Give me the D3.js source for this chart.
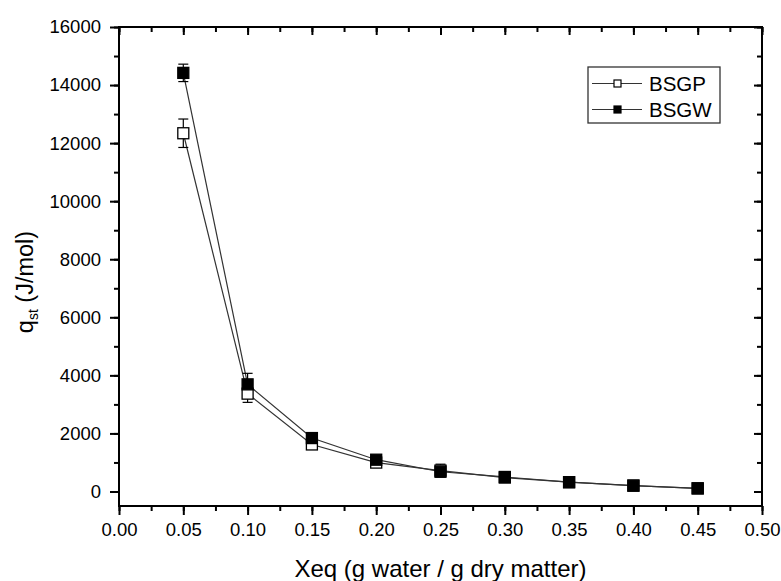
<!DOCTYPE html>
<html lang="en">
<head>
	<meta charset="UTF-8">
	<title>qst vs Xeq</title>
	<script src="https://d3js.org/d3.v7.min.js"></script>
	<style>
		body { margin: 0; background: #fff; }
		text { font-family: Arial, "Liberation Sans", sans-serif; fill: #000; }
	</style>
</head>
<body>
	<div class="box"></div>

	<script type="text/javascript">
		// data
		let xeq = [0.05, 0.10, 0.15, 0.20, 0.25, 0.30, 0.35, 0.40, 0.45]
		let bsgp = [12340, 3370, 1620, 995, 720, 480, 320, 205, 110]
		let bsgpErr = [490, 300, 120, 100, 220, 90, 60, 40, 30]
		let bsgw = [14420, 3690, 1840, 1095, 680, 500, 320, 200, 105]
		let bsgwErr = [300, 380, 150, 110, 120, 80, 60, 40, 30]
		let xTicks = [0, 0.05, 0.10, 0.15, 0.20, 0.25, 0.30, 0.35, 0.40, 0.45, 0.50]
		let yTicks = [0, 2000, 4000, 6000, 8000, 10000, 12000, 14000, 16000]

		let width = 781
		let height = 581
		let margin = { top: 27, right: 19, bottom: 75, left: 119 }
		let svg = d3.select('.box').append('svg').attr('width', width).attr('height', height)

		let x = d3.scaleLinear().domain([0, 0.5]).range([margin.left, width - margin.right])
		let y = d3.scaleLinear().domain([-500, 16000]).range([height - margin.bottom, margin.top])

		let minorX = d3.range(0, 0.5001, 0.025)
		let minorY = d3.range(0, 16001, 1000)

		// minor ticks first, then major ticks with labels
		let axBottom = svg.append('g').attr('transform', `translate(0,${y(-500)})`)
		axBottom.append('g').call(d3.axisBottom(x).tickValues(minorX).tickSize(5).tickFormat(''))
		axBottom.append('g').call(d3.axisBottom(x).tickValues(xTicks).tickSize(9).tickPadding(8).tickFormat(d3.format('.2f')))

		let axLeft = svg.append('g').attr('transform', `translate(${x(0)},0)`)
		axLeft.append('g').call(d3.axisLeft(y).tickValues(minorY).tickSize(5).tickFormat(''))
		axLeft.append('g').call(d3.axisLeft(y).tickValues(yTicks).tickSize(9).tickPadding(9).tickFormat(d => d))

		let axTop = svg.append('g').attr('transform', `translate(0,${y(16000)})`)
		axTop.append('g').call(d3.axisBottom(x).tickValues(minorX).tickSize(5).tickFormat(''))
		axTop.append('g').call(d3.axisBottom(x).tickValues(xTicks).tickSize(8).tickFormat(''))

		let axRight = svg.append('g').attr('transform', `translate(${x(0.5)},0)`)
		axRight.append('g').call(d3.axisLeft(y).tickValues(minorY).tickSize(5).tickFormat(''))
		axRight.append('g').call(d3.axisLeft(y).tickValues(yTicks).tickSize(8).tickFormat(''))

		svg.selectAll('.domain').remove()
		svg.selectAll('.tick line').attr('stroke', '#000').attr('stroke-width', 2)
		svg.selectAll('.tick text').attr('font-size', '18.5px').attr('fill', '#000')
			.style('font-family', 'Arial, "Liberation Sans", sans-serif')

		// frame
		svg.append('rect')
			.attr('x', x(0)).attr('y', y(16000))
			.attr('width', x(0.5) - x(0)).attr('height', y(-500) - y(16000))
			.attr('fill', 'none').attr('stroke', '#000').attr('stroke-width', 2)

		let series = [
			{ name: 'BSGP', values: bsgp, err: bsgpErr, fill: '#fff' },
			{ name: 'BSGW', values: bsgw, err: bsgwErr, fill: '#000' }
		]

		let line = d3.line().x((d, i) => x(xeq[i])).y(d => y(d))
		let box = 11

		series.forEach(s => {
			svg.append('path').datum(s.values)
				.attr('d', line).attr('fill', 'none')
				.attr('stroke', '#333').attr('stroke-width', 1.2)

			let eb = svg.append('g').selectAll('g').data(s.values).enter().append('g')
			eb.append('line')
				.attr('x1', (d, i) => x(xeq[i])).attr('x2', (d, i) => x(xeq[i]))
				.attr('y1', (d, i) => y(d + s.err[i])).attr('y2', (d, i) => y(d - s.err[i]))
				.attr('stroke', '#000').attr('stroke-width', 1.2)
			;[1, -1].forEach(sign => {
				eb.append('line')
					.attr('x1', (d, i) => x(xeq[i]) - 5).attr('x2', (d, i) => x(xeq[i]) + 5)
					.attr('y1', (d, i) => y(d + sign * s.err[i])).attr('y2', (d, i) => y(d + sign * s.err[i]))
					.attr('stroke', '#000').attr('stroke-width', 1.2)
			})
		})

		series.forEach(s => {
			svg.append('g').selectAll('rect').data(s.values).enter().append('rect')
				.attr('x', (d, i) => x(xeq[i]) - box / 2)
				.attr('y', d => y(d) - box / 2)
				.attr('width', box).attr('height', box)
				.attr('fill', s.fill).attr('stroke', '#000').attr('stroke-width', 1.3)
		})

		// legend
		let lg = svg.append('g')
		lg.append('rect').attr('x', 588).attr('y', 67).attr('width', 132).attr('height', 56)
			.attr('fill', '#fff').attr('stroke', '#333').attr('stroke-width', 1.3)
		series.forEach((s, i) => {
			let cy = 83.5 + i * 26
			lg.append('line').attr('x1', 592).attr('x2', 642).attr('y1', cy).attr('y2', cy)
				.attr('stroke', '#333').attr('stroke-width', 1.2)
			lg.append('rect').attr('x', 614).attr('y', cy - 3.5).attr('width', 7).attr('height', 7)
				.attr('fill', s.fill).attr('stroke', '#000').attr('stroke-width', 1.2)
			lg.append('text').attr('x', 649).attr('y', cy + 7.5)
				.attr('font-size', '20.5px').text(s.name)
		})

		// axis titles
		svg.append('text')
			.attr('x', (x(0) + x(0.5)) / 2).attr('y', 577)
			.attr('text-anchor', 'middle').attr('font-size', '24px')
			.text('Xeq (g water / g dry matter)')

		let yt = svg.append('text')
			.attr('transform', 'translate(33,282) rotate(-90)')
			.attr('text-anchor', 'middle').attr('font-size', '23.5px')
		yt.append('tspan').text('q')
		yt.append('tspan').attr('font-size', '14px').attr('dy', 5).text('st')
		yt.append('tspan').attr('dy', -5).text(' (J/mol)')
	</script>
</body>
</html>
